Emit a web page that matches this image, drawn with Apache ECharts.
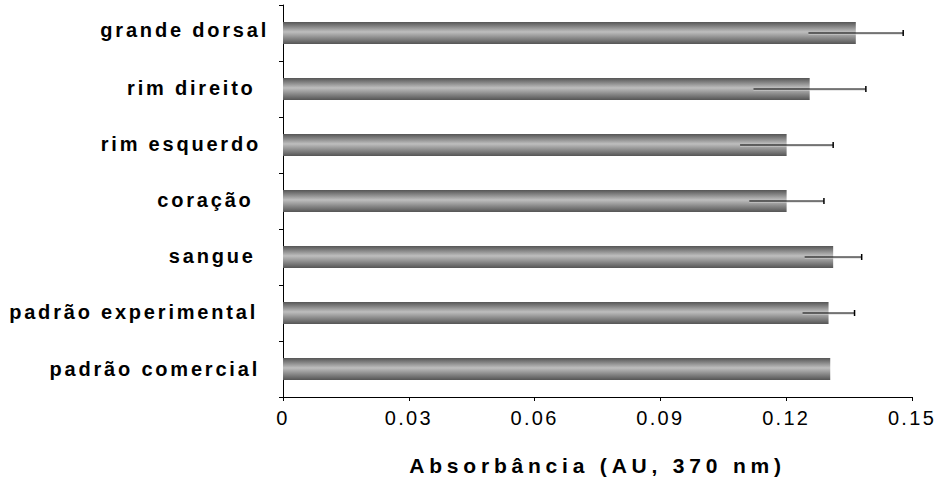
<!DOCTYPE html>
<html>
<head>
<meta charset="utf-8">
<script src="https://cdn.jsdelivr.net/npm/echarts@6/dist/echarts.min.js"></script>
<style>
  html, body { margin: 0; padding: 0; background: #fff; }
  #chart { width: 948px; height: 481px; }
</style>
</head>
<body>
<div id="chart"></div>
<script>
// Categories listed top to bottom
var categories = ['grande dorsal', 'rim direito ', 'rim esquerdo', 'coração ', 'sangue ', 'padrão experimental', 'padrão comercial'];
var absorbance = [0.1366, 0.1256, 0.1201, 0.1201, 0.1312, 0.1301, 0.1305];
var errors = [0.0113, 0.0134, 0.0111, 0.0089, 0.0068, 0.0062, 0];
var xTicks = [0, 0.03, 0.06, 0.09, 0.12, 0.15];
var xAxisTitle = 'Absorbância (AU, 370 nm)';

// label nudges (style only): right padding and vertical lift, px
var labelPadRight = [0, 5, 8, 7, 5, 11, 9];
var labelLift = [3, 1, 1, 1, 1, 1, 0];

var errorData = categories.map(function (c, i) { return [i, absorbance[i], errors[i]]; });

var rich = {};
categories.forEach(function (c, i) {
  rich['c' + i] = {
    fontFamily: 'Liberation Sans', fontWeight: 'bold', fontSize: 20, color: '#000',
    padding: [0, labelPadRight[i], labelLift[i] * 2, 0]
  };
});

var chart = echarts.init(document.getElementById('chart'), null, { renderer: 'svg' });
chart.setOption({
  animation: false,
  backgroundColor: '#ffffff',
  grid: { left: 283, right: 36, top: 5, bottom: 81, containLabel: false },
  xAxis: {
    type: 'value',
    min: xTicks[0],
    max: xTicks[xTicks.length - 1],
    interval: 0.03,
    name: xAxisTitle,
    nameLocation: 'middle',
    nameGap: 58,
    nameTextStyle: { fontFamily: 'Liberation Sans', fontWeight: 'bold', fontSize: 21, color: '#000' },
    axisLine: { show: true, lineStyle: { color: '#000', width: 1 } },
    axisTick: { show: true, length: 4, lineStyle: { color: '#000' } },
    axisLabel: {
      fontFamily: 'Liberation Sans', fontSize: 20, color: '#000', margin: 11,
      formatter: function (v) { return String(Math.round(v * 100) / 100); }
    },
    splitLine: { show: false }
  },
  yAxis: {
    type: 'category',
    data: categories,
    inverse: true,
    axisLine: { show: true, lineStyle: { color: '#000', width: 1 } },
    axisTick: { show: true, length: 4, lineStyle: { color: '#000' } },
    axisLabel: {
      fontFamily: 'Liberation Sans', fontWeight: 'bold', fontSize: 20, color: '#000', margin: 14,
      formatter: function (v, i) { return '{c' + i + '|' + v + '}'; },
      rich: rich
    }
  },
  series: [
    {
      type: 'bar',
      data: absorbance,
      barWidth: 22,
      itemStyle: {
        color: new echarts.graphic.LinearGradient(0, 0, 0, 1, [
          { offset: 0, color: '#555555' },
          { offset: 0.45, color: '#bebebe' },
          { offset: 1, color: '#555555' }
        ])
      }
    },
    {
      type: 'custom',
      data: errorData,
      z: 10,
      renderItem: function (params, api) {
        var cat = api.value(0), v = api.value(1), e = api.value(2);
        if (!e) return null;
        var p0 = api.coord([v - e, cat]);
        var p1 = api.coord([v + e, cat]);
        return {
          type: 'group',
          children: [
            { type: 'line', shape: { x1: p0[0], y1: p0[1] + 1, x2: p1[0], y2: p1[1] + 1 }, style: { stroke: '#cfcfcf', lineWidth: 1 } },
            { type: 'line', shape: { x1: p0[0], y1: p0[1], x2: p1[0], y2: p1[1] }, style: { stroke: '#000', lineWidth: 1 } },
            { type: 'line', shape: { x1: p1[0], y1: p1[1] - 3, x2: p1[0], y2: p1[1] + 3 }, style: { stroke: '#000', lineWidth: 1.5 } }
          ]
        };
      }
    }
  ]
});

// widen letter spacing like the reference
function spaceText() {
  document.querySelectorAll('#chart text').forEach(function (t) {
    var s = t.textContent;
    if (s === xAxisTitle) t.style.letterSpacing = '4.8px';
    else if (categories.indexOf(s) >= 0) t.style.letterSpacing = '2.8px';
    else t.style.letterSpacing = '2.3px';
  });
}
spaceText();
chart.on('finished', spaceText);
</script>
</body>
</html>
